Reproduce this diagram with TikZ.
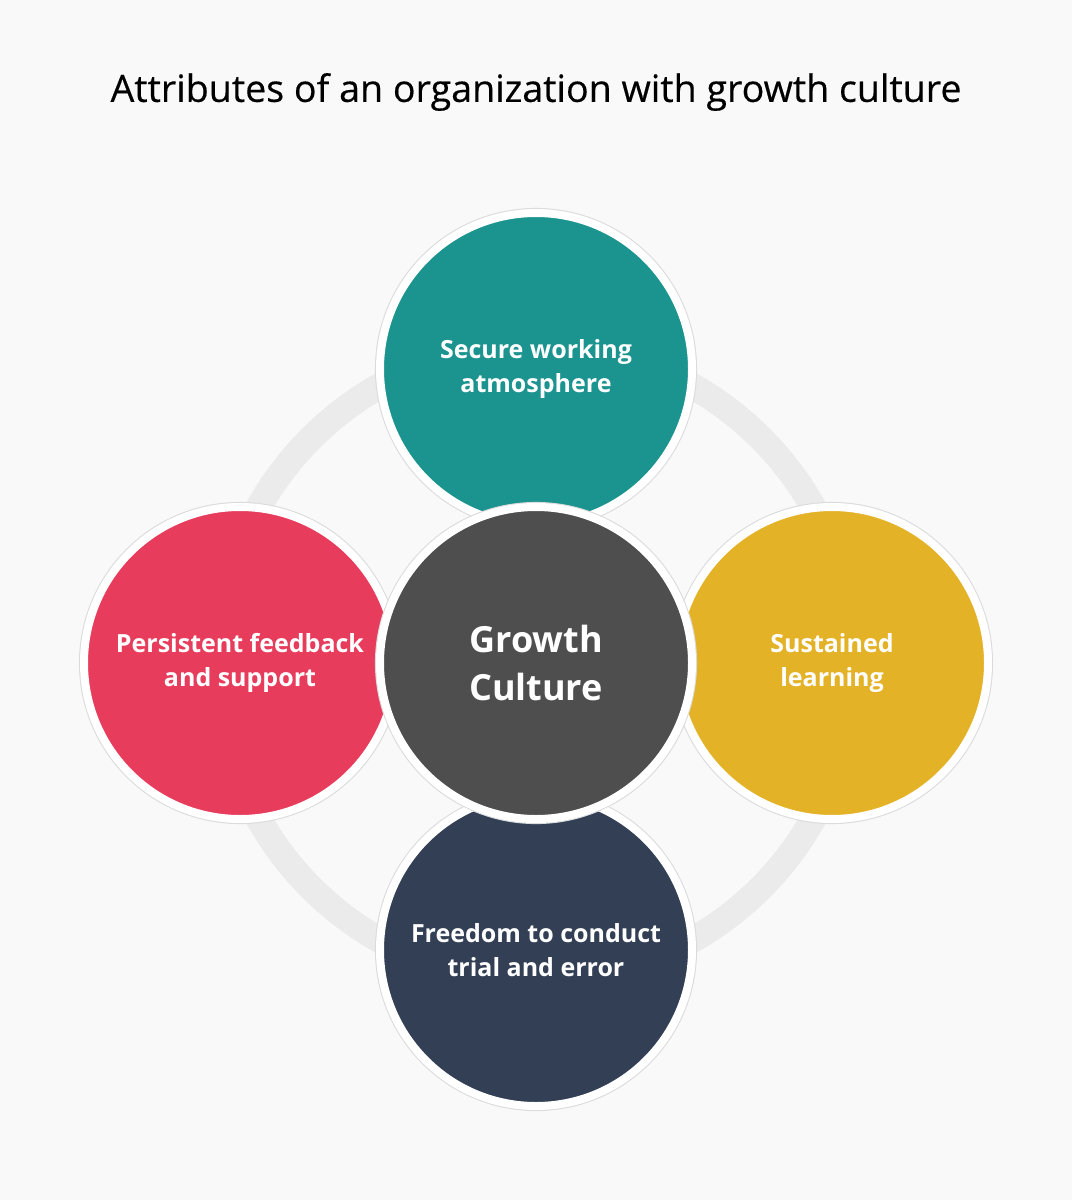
\documentclass[tikz,border=0pt]{standalone}
\usepackage{fontspec}
\setmainfont{Open Sans}
\newfontfamily\titlefont[FakeBold=0.35]{Open Sans}
\definecolor{bgcol}{HTML}{F9F9F9}
\definecolor{ringcol}{HTML}{EBEBEB}
\definecolor{tealcol}{HTML}{1B938F}
\definecolor{redcol}{HTML}{E73C5B}
\definecolor{goldcol}{HTML}{E4B227}
\definecolor{navycol}{HTML}{323F55}
\definecolor{darkcol}{HTML}{4E4E4E}

\begin{document}
\begin{tikzpicture}[x=0.75pt, y=-0.75pt]
\tikzstyle{bubble} = [circle, minimum size=234pt, inner sep=0pt, draw=white, line width=6pt,
  preaction={draw=black!14, line width=7.6pt}, text=white, align=center,
  font=\bfseries\fontsize{18.75}{25.5}\selectfont]
\tikzstyle{ring} = [draw=ringcol, line width=19.5pt]
% -----------------------------------
% Canvas and title
\fill[bgcol] (0, 0) rectangle (1072, 1200);
\useasboundingbox (0, 0) rectangle (1072, 1200);
\node[font=\titlefont\fontsize{28.2}{32}\selectfont] (title) at (536, 92) {Attributes of an organization with growth culture};

% -----------------------------------
% Ring behind the circles
\coordinate (hub) at (536, 663);
\draw[ring] (hub) circle[radius=238.5pt];

% -----------------------------------
% Attributes
\node[bubble, fill=tealcol] (secure) at (536, 369) {Secure working\\atmosphere};
\node[bubble, fill=redcol] (feedback) at (240, 663) {Persistent feedback\\and support};
\node[bubble, fill=goldcol] (learning) at (832, 663) {Sustained\\learning};
\node[bubble, fill=navycol] (freedom) at (536, 950) {Freedom to conduct\\trial and error};

% -----------------------------------
% Centre
\node[bubble, fill=darkcol, font=\bfseries\fontsize{27}{36}\selectfont] (growth) at (hub) {Growth\\Culture};
% -----------------------------------
\end{tikzpicture}
\end{document}
